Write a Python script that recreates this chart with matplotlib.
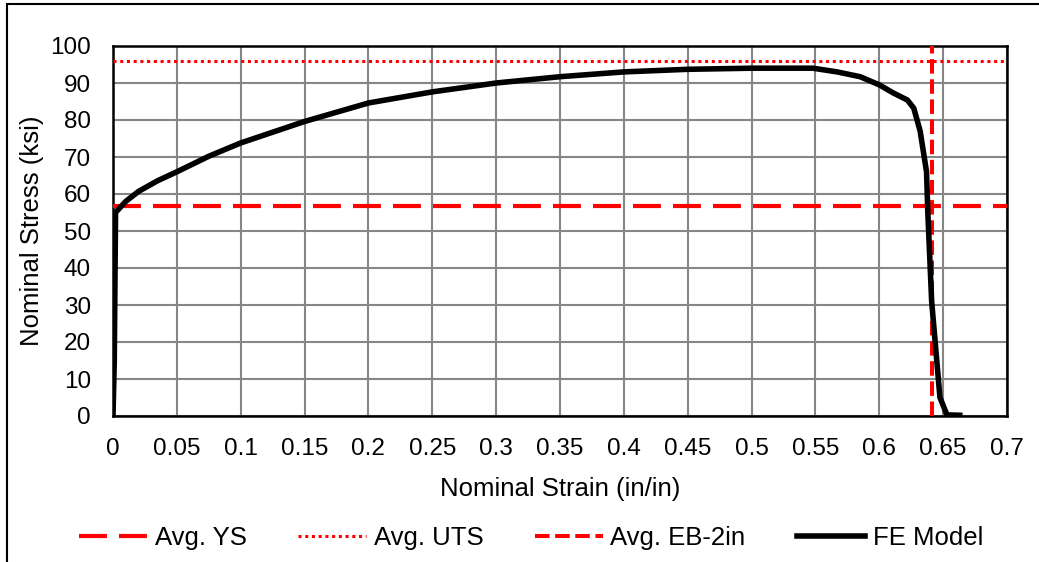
import matplotlib
matplotlib.use("Agg")
import matplotlib.pyplot as plt
from matplotlib.patches import Rectangle

plt.rcParams['font.family'] = ['Liberation Sans', 'DejaVu Sans']

# Data
strain = [0.0, 0.001, 0.002, 0.01, 0.02, 0.035, 0.05, 0.075, 0.10, 0.15, 0.20, 0.25, 0.30, 0.35, 0.40,
          0.45, 0.50, 0.548, 0.567, 0.585, 0.60, 0.611, 0.622, 0.627, 0.632,
          0.637, 0.638, 0.641, 0.6475, 0.653, 0.663]
stress = [0.0, 15.0, 55.0, 58.0, 60.7, 63.6, 66.0, 70.2, 73.8, 79.6, 84.6, 87.6, 90.0, 91.7, 93.0,
          93.7, 94.0, 94.0, 93.0, 91.7, 89.5, 87.3, 85.4, 83.2, 77.0,
          66.0, 55.0, 31.0, 5.0, 0.3, 0.2]
avg_ys = 56.8
avg_uts = 95.9
avg_eb = 0.641
x_ticks = [0, 0.05, 0.1, 0.15, 0.2, 0.25, 0.3, 0.35, 0.4, 0.45, 0.5, 0.55, 0.6, 0.65, 0.7]
x_labels = ["0", "0.05", "0.1", "0.15", "0.2", "0.25", "0.3", "0.35", "0.4", "0.45",
            "0.5", "0.55", "0.6", "0.65", "0.7"]
y_ticks = list(range(0, 101, 10))

fig = plt.figure(figsize=(10.39, 5.62), dpi=100)
ax = fig.add_axes([113/1039, 1 - 416/562, (1007-113)/1039, (416-46)/562])

ax.axhline(avg_ys, color='#ff0000', lw=3.0, dashes=(6.7, 2.9), label='Avg. YS', zorder=3)
ax.axhline(avg_uts, color='#ff0000', lw=2.2, dashes=(1.0, 1.2), label='Avg. UTS', zorder=3)
ax.axvline(avg_eb, color='#ff0000', lw=2.9, dashes=(3.6, 1.4), label='Avg. EB-2in', zorder=3)
ax.plot(strain, stress, color='black', lw=4.0, label='FE Model', zorder=4,
        solid_joinstyle='round')

ax.set_xlim(0, 0.7)
ax.set_ylim(0, 100)
ax.set_xticks(x_ticks)
ax.set_xticklabels(x_labels)
ax.set_yticks(y_ticks)
ax.grid(True, color='#868686', lw=1.5)
ax.set_axisbelow(True)
for s in ax.spines.values():
    s.set_color('black')
    s.set_linewidth(1.8)
ax.tick_params(length=0, labelsize=17.5, colors='black')
ax.tick_params(axis='x', pad=16)
ax.tick_params(axis='y', pad=16)
ax.set_xlabel('Nominal Strain (in/in)', fontsize=18.5, labelpad=12)
ax.set_ylabel('Nominal Stress (ksi)', fontsize=18.5, labelpad=4)

leg = fig.legend(loc='center', bbox_to_anchor=(0.511, 1 - 538/562), ncol=4, frameon=False,
                 fontsize=18.5, handlelength=2.65, columnspacing=2.0, handletextpad=0.3)

fig.patches.append(Rectangle((7/1039, -0.1), 1.2, 1 - 4/562 + 0.1, transform=fig.transFigure,
                             fill=False, edgecolor='black', lw=1.5))

fig.savefig('out.png', dpi=100)
